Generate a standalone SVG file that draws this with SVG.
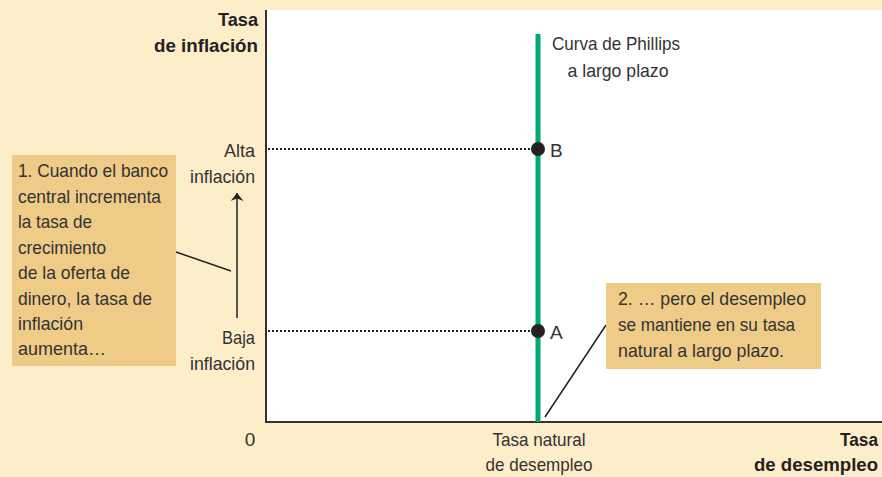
<svg xmlns="http://www.w3.org/2000/svg" width="882" height="477" viewBox="0 0 882 477">
<style>
text{font-family:"Liberation Sans",Arial,sans-serif;font-size:19px;fill:#333}
.b{font-weight:bold;fill:#222}
.box{fill:#EECB87}
.dot{stroke:#222;stroke-width:2;stroke-dasharray:2 2}
.lead{stroke:#222;stroke-width:1.5;fill:none}
</style>
<defs>
<marker id="ah" viewBox="0 0 8 13" refX="8" refY="6.5" markerWidth="8" markerHeight="13" orient="auto" markerUnits="userSpaceOnUse">
<path d="M0,0 L8,6.5 L0,13 L2.5,6.5 z" fill="#222"/>
</marker>
</defs>
<rect width="882" height="477" fill="#FEEDC9"/>
<rect x="266" y="10" width="616" height="412" fill="#fff"/>
<g id="axes">
<path d="M266,10 V422 H882" fill="none" stroke="#333" stroke-width="2"/>
<text class="b" x="258" y="26" text-anchor="end" textLength="40" lengthAdjust="spacingAndGlyphs">Tasa</text>
<text class="b" x="258" y="52" text-anchor="end" textLength="104" lengthAdjust="spacingAndGlyphs">de inflación</text>
<text class="b" x="878" y="446" text-anchor="end" textLength="38" lengthAdjust="spacingAndGlyphs">Tasa</text>
<text class="b" x="878" y="471" text-anchor="end" textLength="124" lengthAdjust="spacingAndGlyphs">de desempleo</text>
<text x="250" y="446" text-anchor="middle">0</text>
<text x="539" y="446" text-anchor="middle" textLength="93" lengthAdjust="spacingAndGlyphs">Tasa natural</text>
<text x="539" y="471" text-anchor="middle" textLength="107" lengthAdjust="spacingAndGlyphs">de desempleo</text>
<text x="255" y="157" text-anchor="end" textLength="31" lengthAdjust="spacingAndGlyphs">Alta</text>
<text x="255" y="183" text-anchor="end" textLength="65" lengthAdjust="spacingAndGlyphs">inflación</text>
<text x="255" y="344" text-anchor="end" textLength="33" lengthAdjust="spacingAndGlyphs">Baja</text>
<text x="255" y="370" text-anchor="end" textLength="65" lengthAdjust="spacingAndGlyphs">inflación</text>
</g>
<g id="connectors">
<line class="dot" x1="268" y1="149" x2="533" y2="149"/>
<line class="dot" x1="268" y1="331" x2="533" y2="331"/>
<line x1="237" y1="318" x2="237" y2="193" stroke="#222" stroke-width="1.5" marker-end="url(#ah)"/>
<line class="lead" x1="176" y1="252" x2="231" y2="271"/>
<line class="lead" x1="545" y1="417" x2="606" y2="325"/>
</g>
<g id="lrpc">
<line x1="538" y1="34" x2="538" y2="422" stroke="#00A878" stroke-width="5"/>
<text x="552" y="50" textLength="128" lengthAdjust="spacingAndGlyphs">Curva de Phillips</text>
<text x="618" y="77" text-anchor="middle" textLength="101" lengthAdjust="spacingAndGlyphs">a largo plazo</text>
</g>
<g id="pointB">
<circle cx="538" cy="149" r="7" fill="#222"/>
<text x="550" y="157">B</text>
</g>
<g id="pointA">
<circle cx="538" cy="331" r="7" fill="#222"/>
<text x="550" y="339">A</text>
</g>
<g id="note1">
<rect class="box" x="12" y="155" width="164" height="211"/>
<text x="18" y="177" textLength="150" lengthAdjust="spacingAndGlyphs">1. Cuando el banco</text>
<text x="18" y="203" textLength="143" lengthAdjust="spacingAndGlyphs">central incrementa</text>
<text x="18" y="228" textLength="74" lengthAdjust="spacingAndGlyphs">la tasa de</text>
<text x="18" y="254" textLength="88" lengthAdjust="spacingAndGlyphs">crecimiento</text>
<text x="18" y="279" textLength="112" lengthAdjust="spacingAndGlyphs">de la oferta de</text>
<text x="18" y="305" textLength="134" lengthAdjust="spacingAndGlyphs">dinero, la tasa de</text>
<text x="18" y="330" textLength="65" lengthAdjust="spacingAndGlyphs">inflación</text>
<text x="18" y="355" textLength="88" lengthAdjust="spacingAndGlyphs">aumenta…</text>
</g>
<g id="note2">
<rect class="box" x="606" y="283" width="215" height="86"/>
<text x="618" y="305" textLength="188" lengthAdjust="spacingAndGlyphs">2. … pero el desempleo</text>
<text x="618" y="331" textLength="177" lengthAdjust="spacingAndGlyphs">se mantiene en su tasa</text>
<text x="618" y="357" textLength="166" lengthAdjust="spacingAndGlyphs">natural a largo plazo.</text>
</g>
</svg>
